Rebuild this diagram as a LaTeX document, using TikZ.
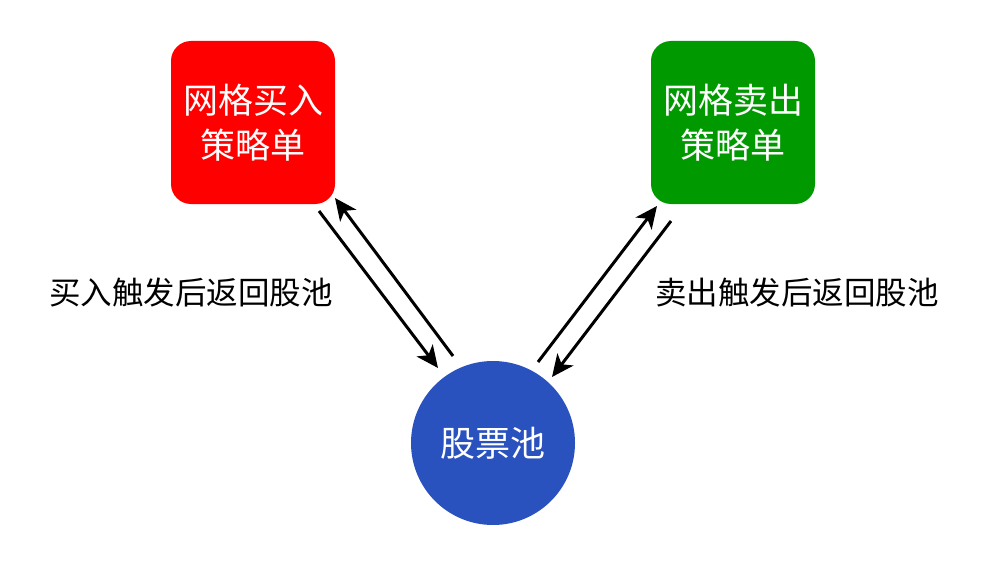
\documentclass[tikz,border=0pt]{standalone}
\usepackage{fontspec}
\setmainfont{Noto Sans CJK SC}
\usetikzlibrary{arrows.meta}
\definecolor{buyred}{HTML}{FF0000}
\definecolor{sellgreen}{HTML}{009900}
\definecolor{poolblue}{HTML}{2A52BE}
\begin{document}
\begin{tikzpicture}[x=1pt,y=-1pt,
  box/.style={rectangle,rounded corners=20pt,minimum width=164pt,minimum height=163pt,inner sep=0pt,text=white,font=\fontsize{35}{45}\selectfont,align=center},
  pool/.style={circle,minimum size=164pt,inner sep=0pt,fill=poolblue,text=white,font=\fontsize{35}{40}\selectfont},
  lbl/.style={font=\fontsize{31.5}{36}\selectfont,text=black},
  arr/.style={line width=3pt,-{Stealth[length=22pt,width=20pt,inset=6pt]}}]
\useasboundingbox (0,0) rectangle (1000,564);
\node[box,fill=buyred] (buy) at (253,122.5) {网格买入\\策略单};
\node[box,fill=sellgreen] (sell) at (733,122.5) {网格卖出\\策略单};
\node[pool] (pool) at (493,443) {股票池};
\node[lbl] (lbuy) at (191,293) {买入触发后返回股池};
\node[lbl] (lsell) at (797,293) {卖出触发后返回股池};
\coordinate (b1s) at (319,211);
\coordinate (b1e) at (438,368);
\coordinate (b2s) at (453,356);
\coordinate (b2e) at (335,198);
\coordinate (s1s) at (538,362);
\coordinate (s1e) at (657,206);
\coordinate (s2s) at (671,221);
\coordinate (s2e) at (552,377);
\draw[arr] (b1s) -- (b1e);
\draw[arr] (b2s) -- (b2e);
\draw[arr] (s1s) -- (s1e);
\draw[arr] (s2s) -- (s2e);
\end{tikzpicture}
\end{document}
